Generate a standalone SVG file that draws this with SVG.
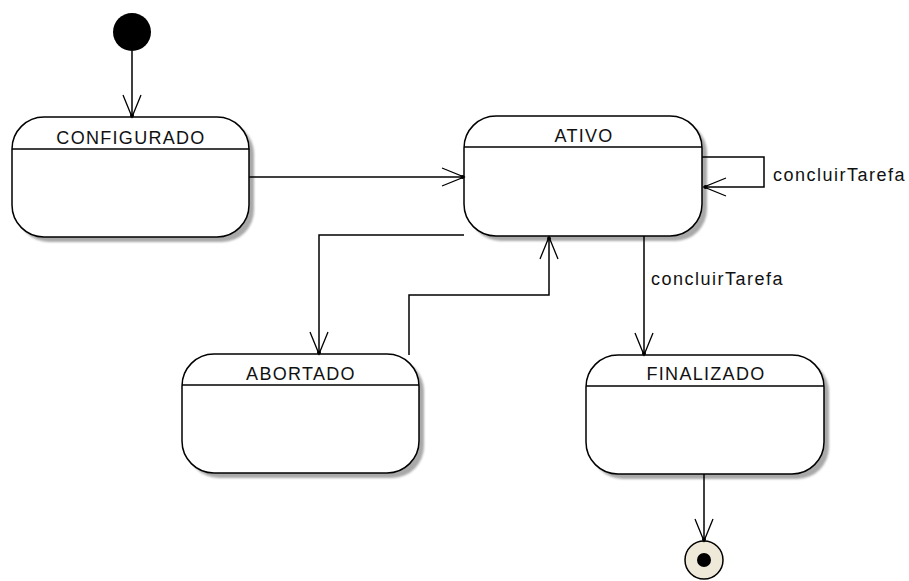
<svg xmlns="http://www.w3.org/2000/svg" width="909" height="581" viewBox="0 0 909 581">
  <defs>
    <filter id="blur" x="-10%" y="-10%" width="120%" height="120%">
      <feGaussianBlur stdDeviation="0.8"/>
    </filter>
    <marker id="arrow" markerUnits="userSpaceOnUse" markerWidth="40" markerHeight="40" refX="0" refY="0" orient="auto" viewBox="-30 -20 40 40" overflow="visible">
      <path d="M-22,-9 L0,0 L-22,9" fill="none" stroke="#000" stroke-width="1.3"/>
      <circle cx="-1.5" cy="0" r="2" fill="#000"/>
    </marker>
  </defs>
  <style>
    .shadow { fill: #a9a9a9; filter: url(#blur); }
    .box { fill: #fff; stroke: #000; stroke-width: 1.5; }
    .sep { stroke: #000; stroke-width: 1.5; }
    .title { font-family: "Liberation Sans", Arial, sans-serif; font-size: 18px; letter-spacing: 1.3px; fill: #111; text-anchor: middle; }
    .label { font-family: "Liberation Sans", Arial, sans-serif; font-size: 18px; letter-spacing: 1.5px; fill: #111; }
    .conn { fill: none; stroke: #000; stroke-width: 1.5; }
    .arr { marker-end: url(#arrow); }
  </style>
  <rect width="909" height="581" fill="#fff"/>

  <g id="initial">
    <circle cx="132" cy="32" r="19" fill="#000"/>
  </g>

  <g id="configurado">
    <rect class="shadow" x="17" y="122" width="237" height="120" rx="32" ry="32"/>
    <rect class="box" x="12" y="117" width="237" height="120" rx="32" ry="32"/>
    <line class="sep" x1="12" y1="149" x2="249" y2="149"/>
    <text class="title" x="131" y="144">CONFIGURADO</text>
  </g>

  <g id="ativo">
    <rect class="shadow" x="469" y="121" width="238" height="120" rx="32" ry="32"/>
    <rect class="box" x="464" y="116" width="238" height="120" rx="32" ry="32"/>
    <line class="sep" x1="464" y1="147" x2="702" y2="147"/>
    <text class="title" x="584" y="142">ATIVO</text>
  </g>

  <g id="abortado">
    <rect class="shadow" x="187" y="359" width="237" height="119" rx="32" ry="32"/>
    <rect class="box" x="182" y="354" width="237" height="119" rx="32" ry="32"/>
    <line class="sep" x1="182" y1="385" x2="419" y2="385"/>
    <text class="title" x="301" y="380">ABORTADO</text>
  </g>

  <g id="finalizado">
    <rect class="shadow" x="591" y="360" width="238" height="119" rx="32" ry="32"/>
    <rect class="box" x="586" y="355" width="238" height="119" rx="32" ry="32"/>
    <line class="sep" x1="586" y1="386" x2="824" y2="386"/>
    <text class="title" x="706" y="380">FINALIZADO</text>
  </g>

  <g id="final">
    <circle cx="704" cy="560" r="19" fill="#efe9d9" stroke="#000" stroke-width="1.5"/>
    <circle cx="704" cy="560" r="7" fill="#000"/>
  </g>

  <g id="connectors">
    <path class="conn arr" d="M132,51 V117"/>
    <path class="conn arr" d="M249,177 H464"/>
    <path class="conn arr" d="M702,157 H764 V187 H704"/>
    <path class="conn arr" d="M464,235 H319 V354"/>
    <path class="conn arr" d="M409,355 V295 H549 V237"/>
    <path class="conn arr" d="M644,236 V355"/>
    <path class="conn arr" d="M704,474 V541"/>
    <text class="label" x="773" y="181">concluirTarefa</text>
    <text class="label" x="651" y="285">concluirTarefa</text>
  </g>
</svg>
